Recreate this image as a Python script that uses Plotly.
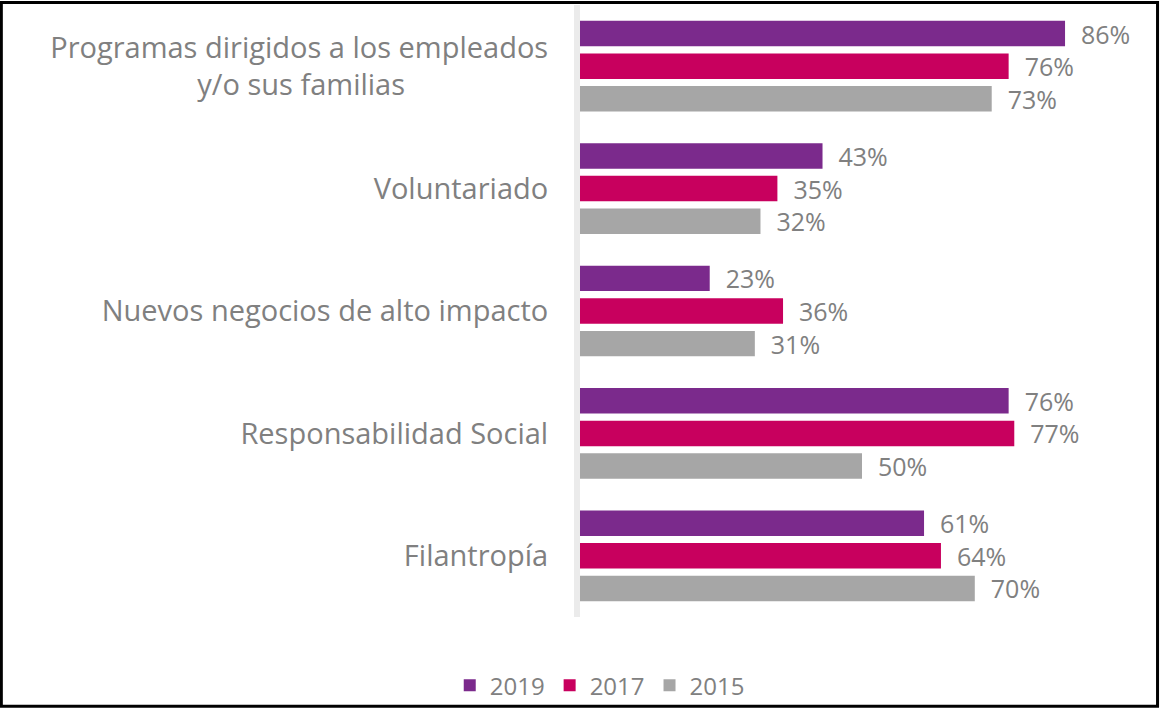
import plotly.graph_objects as go

# ─── Data ────────────────────────────────────────────────────────────────────
categories = [
    "Programas dirigidos a los empleados<br>y/o sus familias" + "\u00a0" * 19,
    "Voluntariado",
    "Nuevos negocios de alto impacto",
    "Responsabilidad Social",
    "Filantropía",
]
years = ["2019", "2017", "2015"]
values_2019 = [86, 43, 23, 76, 61]
values_2017 = [76, 35, 36, 77, 64]
values_2015 = [73, 32, 31, 50, 70]

COLORS = {"2019": "#7B2A8C", "2017": "#C8005E", "2015": "#A6A6A6"}
TEXT_GREY = "#808080"
FONT = "Open Sans, sans-serif"

fig = go.Figure()
for year, vals in zip(years, [values_2019, values_2017, values_2015]):
    fig.add_trace(go.Bar(
        y=categories, x=vals,
        orientation="h",
        name=year,
        marker=dict(color=COLORS[year], line=dict(width=0)),
        text=[f"\u00a0\u00a0{v}%" for v in vals],
        textposition="outside",
        constraintext="none",
        textfont=dict(size=25, color=TEXT_GREY, family=FONT),
        cliponaxis=False,
    ))

fig.update_layout(
    width=1160, height=708,
    paper_bgcolor="white", plot_bgcolor="white",
    font=dict(family=FONT, color=TEXT_GREY),
    barmode="group", bargap=0.2, bargroupgap=0.22,
    margin=dict(l=580, r=16, t=5, b=91, autoexpand=False),
    showlegend=True,
    legend=dict(
        orientation="h", x=0.035, xanchor="center", y=-0.112, yanchor="middle",
        bgcolor="rgba(0,0,0,0)",
        font=dict(size=24, color=TEXT_GREY), traceorder="normal",
    ),
    xaxis=dict(range=[0, 100], visible=False),
    yaxis=dict(
        autorange="reversed", showline=True, linecolor="#EBEBEB", linewidth=6,
        showgrid=False, ticks="", ticklabelstandoff=20,
        tickfont=dict(size=29, color=TEXT_GREY),
    ),
    shapes=[dict(
        type="rect", xref="paper", yref="paper",
        x0=-1.026, x1=1.024, y0=-0.146, y1=1.004,
        line=dict(color="black", width=3),
    )],
)

# page body has an 8px default margin; drop it so the figure sits at 0,0
fig.write_html(
    "out.html",
    config={"displayModeBar": False},
    post_script="document.body.style.margin='0';",
)
